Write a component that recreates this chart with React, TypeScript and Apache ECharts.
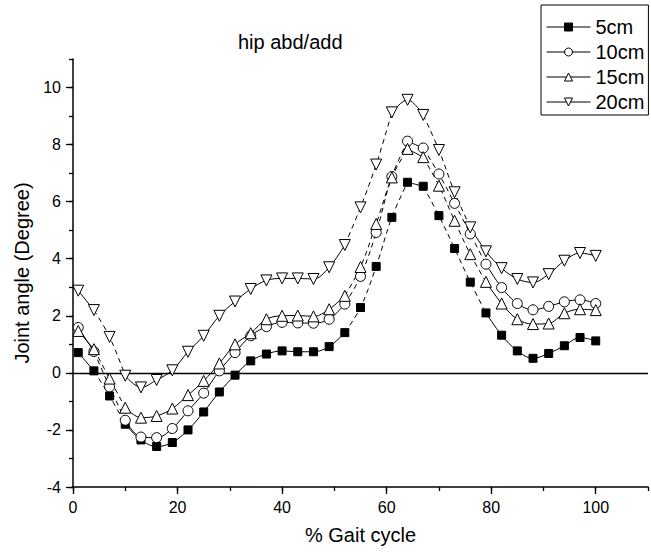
import React, { useEffect, useRef } from 'react';
import * as echarts from 'echarts';

// % gait cycle sample positions
const gaitPct = [1, 4, 7, 10, 13, 16, 19, 22, 25, 28, 31, 34, 37, 40, 43, 46, 49, 52, 55, 58, 61, 64, 67, 70, 73, 76, 79, 82, 85, 88, 91, 94, 97, 100];

// Joint angle (degree) per step height
const cm5 = [0.71, 0.07, -0.81, -1.8, -2.35, -2.58, -2.44, -2.0, -1.37, -0.67, -0.08, 0.42, 0.66, 0.77, 0.74, 0.74, 0.92, 1.41, 2.29, 3.73, 5.45, 6.68, 6.54, 5.51, 4.36, 3.18, 2.1, 1.32, 0.77, 0.51, 0.68, 0.95, 1.24, 1.12];
const cm10 = [1.59, 0.75, -0.49, -1.66, -2.25, -2.27, -1.95, -1.33, -0.71, 0.07, 0.71, 1.3, 1.62, 1.77, 1.75, 1.74, 1.88, 2.41, 3.38, 4.92, 6.88, 8.12, 7.88, 6.97, 5.94, 4.87, 3.81, 2.99, 2.43, 2.21, 2.33, 2.49, 2.56, 2.43];
const cm15 = [1.47, 0.83, -0.2, -1.22, -1.57, -1.51, -1.25, -0.78, -0.28, 0.33, 1.0, 1.39, 1.88, 2.0, 2.01, 1.98, 2.23, 2.7, 3.71, 5.22, 6.85, 7.85, 7.56, 6.56, 5.33, 4.16, 3.19, 2.43, 1.88, 1.71, 1.73, 2.09, 2.23, 2.2];
const cm20 = [2.88, 2.2, 1.26, -0.1, -0.51, -0.25, 0.09, 0.74, 1.3, 2.0, 2.5, 2.94, 3.24, 3.31, 3.31, 3.29, 3.7, 4.48, 5.8, 7.3, 9.13, 9.57, 9.04, 7.81, 6.33, 5.1, 4.26, 3.67, 3.29, 3.17, 3.46, 3.93, 4.2, 4.1];

const seriesNames = ['5cm', '10cm', '15cm', '20cm'];
const seriesValues = [cm5, cm10, cm15, cm20];

const xMajorTicks = [0, 20, 40, 60, 80, 100];
const yMajorTicks = [-4, -2, 0, 2, 4, 6, 8, 10];

const FONT = '"Liberation Sans", Arial, Helvetica, sans-serif';
const STEEP = 0.85;

const markerStyles = [
  { symbol: 'rect', symbolSize: 8, symbolRotate: 0, fill: '#000' },
  { symbol: 'circle', symbolSize: 10, symbolRotate: 0, fill: '#fff' },
  { symbol: 'triangle', symbolSize: 11, symbolRotate: 0, fill: '#fff' },
  { symbol: 'triangle', symbolSize: 11, symbolRotate: 180, fill: '#fff' },
];

type Run = { dashed: boolean; pts: number[][] };

function buildRuns(values: number[]): Run[] {
  const out: Run[] = [];
  for (let i = 0; i < values.length - 1; i++) {
    const dashed = Math.abs(values[i + 1] - values[i]) >= STEEP;
    const last = out[out.length - 1];
    if (last && last.dashed === dashed) {
      last.pts.push([gaitPct[i + 1], values[i + 1]]);
    } else {
      out.push({ dashed, pts: [[gaitPct[i], values[i]], [gaitPct[i + 1], values[i + 1]]] });
    }
  }
  return out;
}

export default function App() {
  const ref = useRef<HTMLDivElement>(null);

  useEffect(() => {
    if (!ref.current) return;
    const chart = echarts.init(ref.current, null, { renderer: 'svg' });

    const series: any[] = [];
    seriesValues.forEach((vals, si) => {
      buildRuns(vals).forEach((run, ri) => {
        series.push({
          name: `${seriesNames[si]}-line-${ri}`,
          type: 'line',
          data: run.pts,
          xAxisIndex: 0,
          yAxisIndex: 0,
          smooth: 0.35,
          symbol: 'none',
          silent: true,
          z: 2,
          lineStyle: { color: '#000', width: 1, type: run.dashed ? [5, 4] : 'solid' },
        });
      });
    });
    seriesValues.forEach((vals, si) => {
      const m = markerStyles[si];
      const s: any = {
        name: seriesNames[si],
        type: 'line',
        data: vals.map((v, i) => [gaitPct[i], v]),
        xAxisIndex: 0,
        yAxisIndex: 0,
        symbol: m.symbol,
        symbolSize: m.symbolSize,
        symbolRotate: m.symbolRotate,
        showSymbol: true,
        z: 4 + si,
        itemStyle: { color: m.fill, borderColor: '#000', borderWidth: 1 },
        lineStyle: { opacity: 0, width: 0 },
      };
      if (si === 0) {
        s.markLine = {
          silent: true,
          symbol: 'none',
          label: { show: false },
          lineStyle: { color: '#000', width: 1.3, type: 'solid', opacity: 1 },
          data: [{ yAxis: 0 }],
          z: 1,
        };
      }
      series.push(s);
    });

    const tickStyle = { color: '#000', width: 1.3 };

    chart.setOption({
      animation: false,
      backgroundColor: '#fff',
      textStyle: { fontFamily: FONT },
      title: {
        text: 'hip abd/add',
        left: 233,
        top: 27,
        textStyle: { fontSize: 20, fontWeight: 'normal', color: '#000', fontFamily: FONT },
      },
      legend: {
        data: seriesNames,
        orient: 'vertical',
        left: 541,
        top: 5,
        padding: [12, 4, 3, 5],
        itemGap: 5,
        itemWidth: 44,
        itemHeight: 10,
        borderColor: '#000',
        borderWidth: 1,
        backgroundColor: '#fff',
        textStyle: { fontSize: 20, lineHeight: 20, color: '#000', fontFamily: FONT },
        lineStyle: { color: '#000', width: 1, opacity: 1, type: 'solid' },
        itemStyle: { borderColor: '#000', borderWidth: 1 },
      },
      grid: { left: 73, right: 3, top: 59, bottom: 65, containLabel: false },
      xAxis: [
        {
          type: 'value',
          min: 0,
          max: 110,
          interval: 10,
          position: 'bottom',
          name: '% Gait cycle',
          nameLocation: 'middle',
          nameGap: 38,
          nameTextStyle: { fontSize: 20, color: '#000', fontFamily: FONT },
          axisLine: { show: true, onZero: false, lineStyle: { color: '#000', width: 1.5 } },
          axisTick: { show: true, inside: false, length: 4, lineStyle: tickStyle },
          axisLabel: {
            fontSize: 16,
            color: '#000',
            margin: 12,
            fontFamily: FONT,
            formatter: (v: number) => (xMajorTicks.includes(v) ? String(v) : ''),
          },
          splitLine: { show: false },
        },
        {
          type: 'value',
          min: 0,
          max: 110,
          interval: 20,
          position: 'bottom',
          axisLine: { show: false, onZero: false },
          axisTick: { show: true, inside: false, length: 7, customValues: xMajorTicks, lineStyle: tickStyle },
          axisLabel: { show: false },
          splitLine: { show: false },
        },
      ],
      yAxis: [
        {
          type: 'value',
          min: -4,
          max: 11,
          interval: 1,
          position: 'left',
          name: 'Joint angle (Degree)',
          nameLocation: 'middle',
          nameGap: 40,
          nameTextStyle: { fontSize: 20, color: '#000', fontFamily: FONT },
          axisLine: { show: true, onZero: false, lineStyle: { color: '#000', width: 1.5 } },
          axisTick: { show: true, inside: false, length: 4, lineStyle: tickStyle },
          axisLabel: {
            fontSize: 16,
            color: '#000',
            margin: 12,
            fontFamily: FONT,
            formatter: (v: number) => (yMajorTicks.includes(v) ? String(v) : ''),
          },
          splitLine: { show: false },
        },
        {
          type: 'value',
          min: -4,
          max: 11,
          interval: 2,
          position: 'left',
          axisLine: { show: false, onZero: false },
          axisTick: { show: true, inside: false, length: 7, customValues: yMajorTicks, lineStyle: tickStyle },
          axisLabel: { show: false },
          splitLine: { show: false },
        },
      ],
      series,
    });

    return () => chart.dispose();
  }, []);

  return <div ref={ref} style={{ width: 651, height: 552, position: 'absolute', left: 0, top: 0 }} />;
}
